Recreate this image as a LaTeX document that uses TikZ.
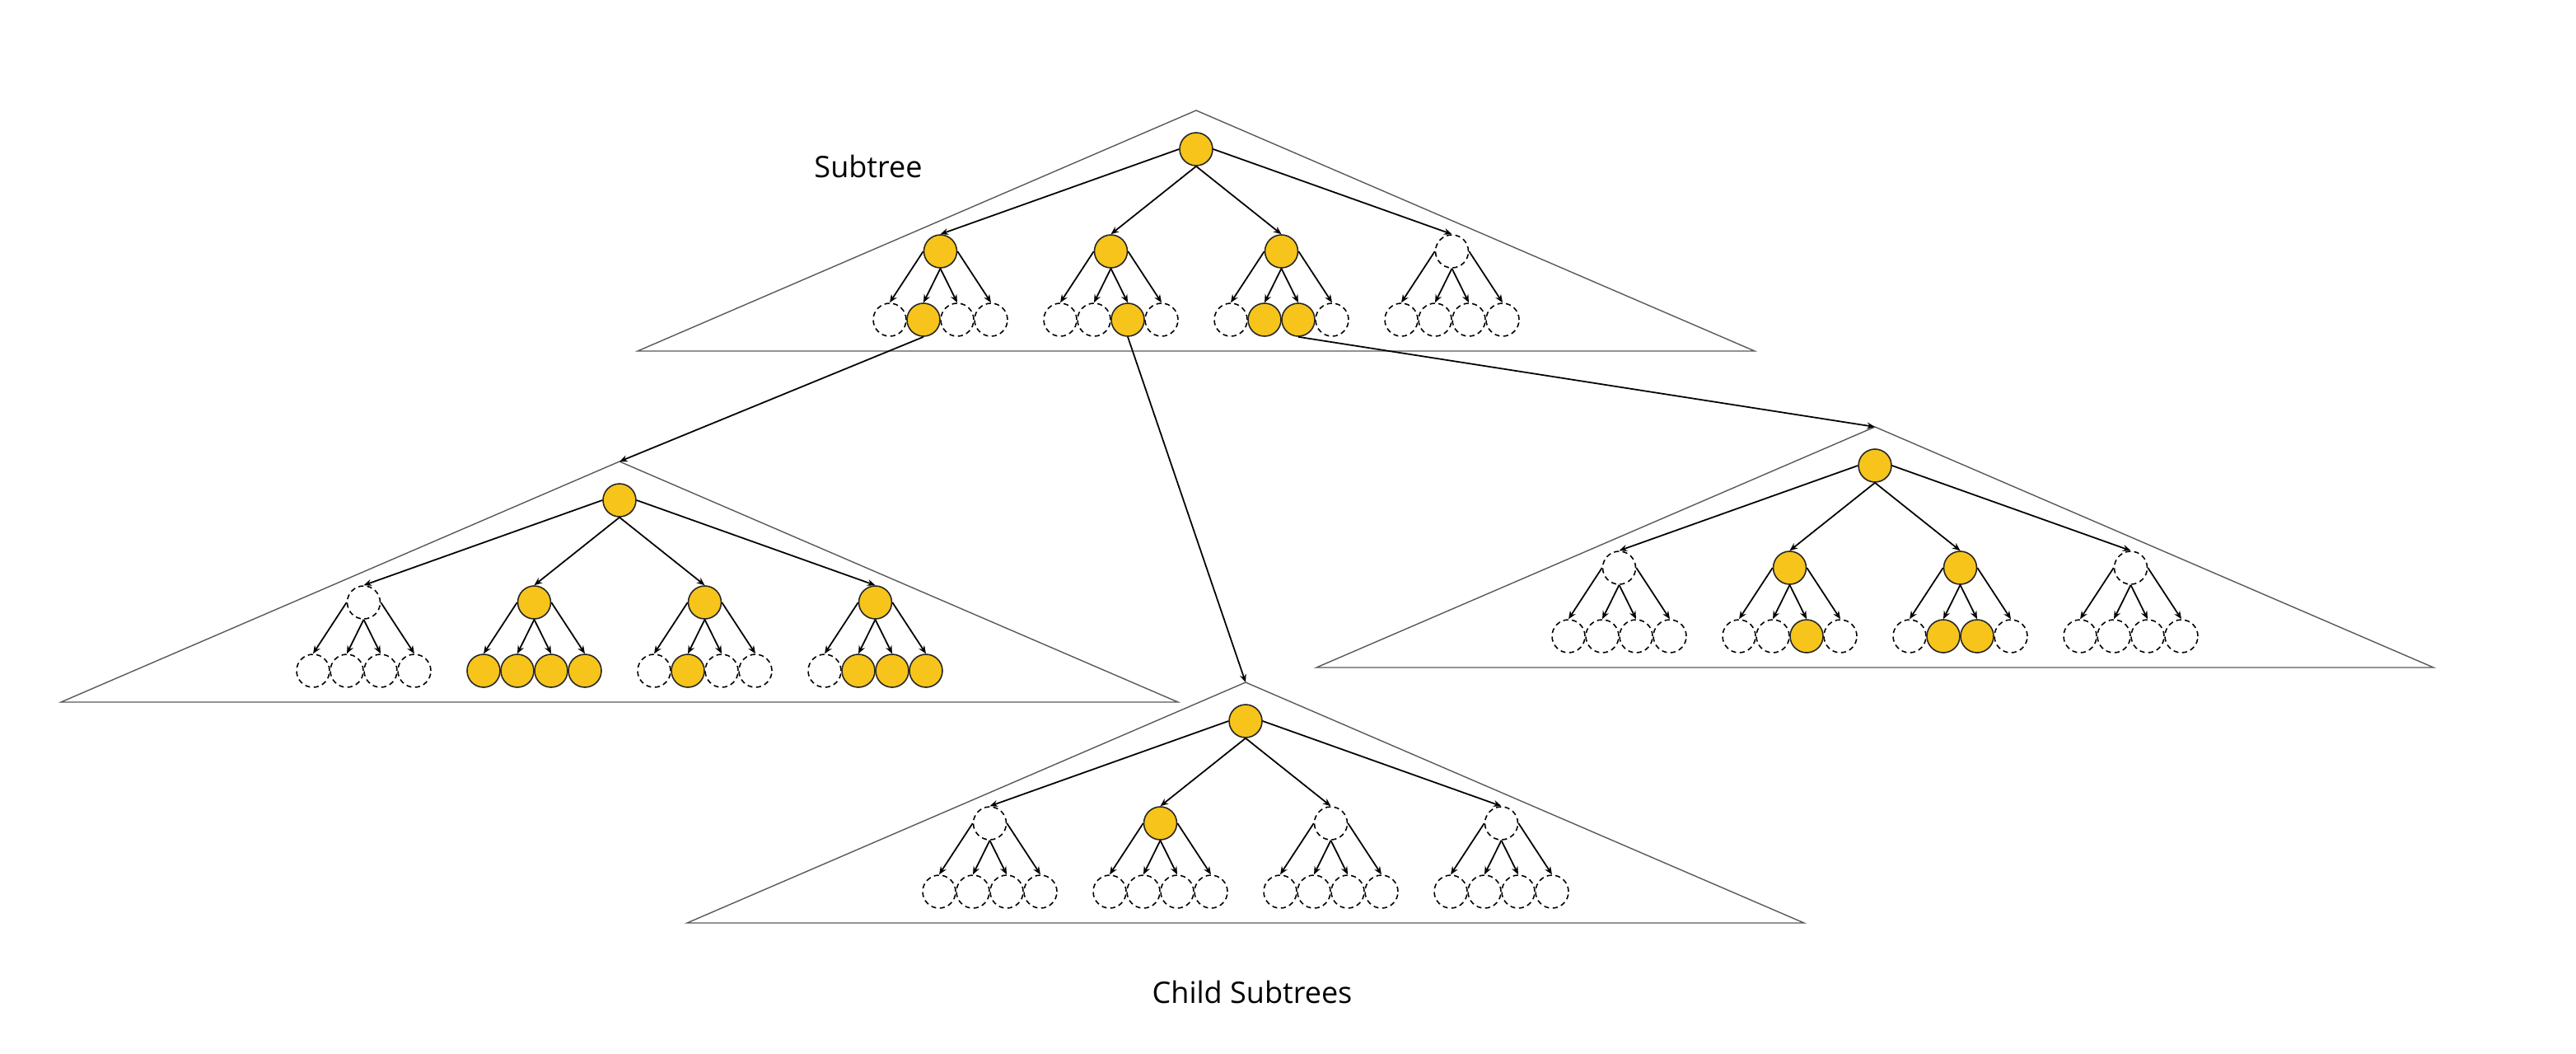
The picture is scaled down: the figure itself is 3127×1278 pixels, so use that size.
\documentclass[tikz,border=0pt]{standalone}
\usepackage{fontspec}
\setmainfont{Open Sans}
\usepackage{xcolor}
\definecolor{nodeyellow}{HTML}{F6C41A}
\definecolor{framegray}{HTML}{595959}
\usetikzlibrary{arrows.meta}

\begin{document}
\begin{tikzpicture}[x=0.02cm, y=-0.02cm,
	vtx/.style={circle, minimum size=0.8cm, inner sep=0pt, line width=0.9pt},
	vtx0/.style={vtx, draw, dash pattern=on 3.5pt off 2.5pt},
	vtx1/.style={vtx, draw=black!85, fill=nodeyellow},
	link/.style={-{Stealth[length=5.5pt, width=4.5pt]}, line width=1pt},
	frame/.style={framegray, line width=0.8pt},
	captiontext/.style={font=\fontsize{20.5}{24}\selectfont, anchor=base}]
	
	\useasboundingbox (0, 0) rectangle (3127, 1278);
	
	% one triangle per subtree: apex, then the filled nodes of level 1 and level 2
	\foreach \t/\ax/\ay/\ra/\rb in {top/1452/134/{1,1,1,0}/{0,1,0,0, 0,0,1,0, 0,1,1,0, 0,0,0,0},
		left/752/560/{0,1,1,1}/{0,0,0,0, 1,1,1,1, 0,1,0,0, 0,1,1,1},
		bottom/1512/828/{0,1,0,0}/{0,0,0,0, 0,0,0,0, 0,0,0,0, 0,0,0,0},
		right/2276/518/{0,1,1,0}/{0,0,0,0, 0,0,1,0, 0,1,1,0, 0,0,0,0}} {
		
		\coordinate (\t-apex) at (\ax, \ay);
		\draw[frame] (\t-apex) -- (\ax+678, \ay+292) -- (\ax-678, \ay+292) -- cycle;
		\node[vtx1] (\t-r) at (\ax, \ay+47) {};
		\foreach \i/\a in {0/west, 1/south, 2/south, 3/east} {
			\pgfmathtruncatemacro{\f}{{\ra}[\i]}
			\node[vtx\f] (\t-\i) at (\ax+207*\i-310.5, \ay+171) {};
			\draw[link] (\t-r.\a) -- (\t-\i.north);
			\foreach \j/\b in {0/west, 1/south, 2/south, 3/east} {
				\pgfmathtruncatemacro{\g}{{\rb}[4*\i+\j]}
				\node[vtx\g] (\t-\i-\j) at (\ax+207*\i-310.5+41*\j-61.5, \ay+254) {};
				\draw[link] (\t-\i.\b) -- (\t-\i-\j.north);
			}
		}
	}
	
	% links to the child subtrees
	\draw[link] (top-0-1.south) -- (left-apex);
	\draw[link] (top-1-2.south) -- (bottom-apex);
	\draw[link] (top-2-2.south) -- (right-apex);
	
	\node[captiontext] (subtree-text) at (1054, 215) {Subtree};
	\node[captiontext] (child-text) at (1520, 1217) {Child Subtrees};
\end{tikzpicture}
\end{document}
